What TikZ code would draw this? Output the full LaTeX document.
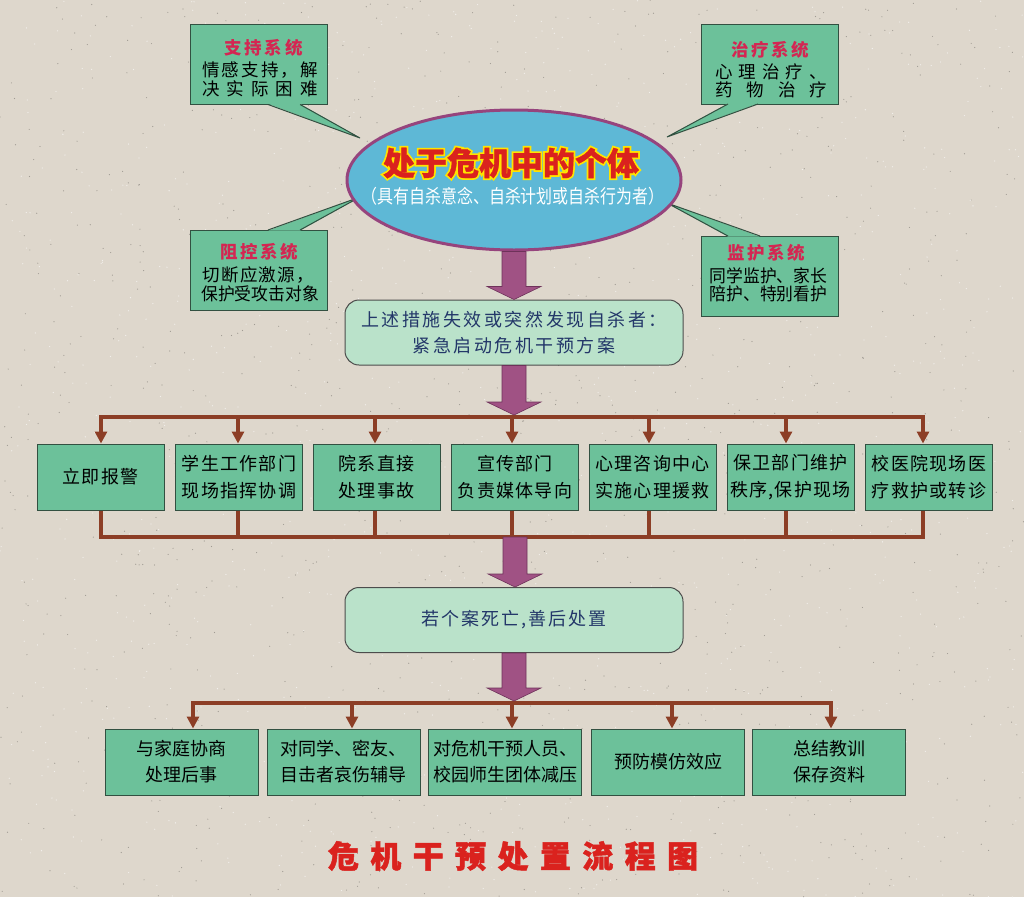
\documentclass[tikz,border=0pt]{standalone}
\usepackage{fontspec}
\usepackage{graphicx}
\setmainfont{Noto Sans CJK SC}
\usetikzlibrary{shapes.geometric,arrows.meta,calc}
\definecolor{bg}{RGB}{222,215,204}
\definecolor{boxg}{RGB}{108,193,154}
\definecolor{boxb}{RGB}{50,80,65}
\definecolor{ellf}{RGB}{94,184,214}
\definecolor{ellb}{RGB}{150,68,125}
\definecolor{purp}{RGB}{160,82,132}
\definecolor{purpd}{RGB}{110,50,90}
\definecolor{busc}{RGB}{140,62,38}
\definecolor{mint}{RGB}{186,226,202}
\definecolor{headred}{RGB}{212,38,82}
\definecolor{navy}{RGB}{35,55,105}
\definecolor{titred}{RGB}{218,34,30}
\definecolor{tityel}{RGB}{255,228,0}
\newcommand\FS[2]{\fontsize{#1}{#2}\selectfont}
\newcommand\blockarrow[2]{%
  \path let \p1=(#1), \p2=(#2) in [fill=purp,draw=purpd,line width=0.6pt]
    (\x1-12pt,\y1) -- (\x1+12pt,\y1) -- (\x1+12pt,\y2+13pt) -- (\x1+27pt,\y2+13pt)
    -- (\x1,\y2) -- (\x1-27pt,\y2+13pt) -- (\x1-12pt,\y2+13pt) -- cycle;}
\tikzset{
  gbox/.style={draw=boxb,line width=1pt,fill=boxg,inner sep=0pt,align=center},
  callout/.style={gbox,minimum width=137pt,minimum height=80pt},
  rowbox/.style={gbox,minimum width=127pt,minimum height=66pt,
     font=\FS{18}{27}\addfontfeature{LetterSpace=7}},
  lowbox/.style={gbox,minimum width=153pt,minimum height=66pt,font=\FS{18}{26}},
  rbox/.style={draw=black!70,line width=1pt,fill=mint,rounded corners=14pt,
     minimum width=338pt,minimum height=65pt,align=center,text=navy,
     font=\FS{18}{26}\addfontfeature{LetterSpace=14}},
  bus/.style={draw=busc,line width=4pt},
  busarrow/.style={bus,-{Triangle[length=12pt,width=12pt]}},
  head/.style={text=headred,font=\FS{17.5}{17.5}\bfseries,inner sep=0pt},
  body/.style={text=black,font=\FS{17.5}{17.5},inner sep=0pt},
  ptr/.style={fill=boxg},
  ptrl/.style={draw=boxb,line width=1pt},
}
\begin{document}
\begin{tikzpicture}[x=1pt,y=-1pt]
\useasboundingbox (0,0) rectangle (1024,897);
\fill[bg] (0,0) rectangle (1024,897);
\pgfmathsetseed{7}
\foreach \i in {1,...,1100}{\fill[black!28!bg] (rnd*1024,rnd*897) circle (0.6pt);}
\foreach \i in {1,...,1100}{\fill[white!60!bg] (rnd*1024,rnd*897) circle (0.65pt);}

% callout boxes
\node[callout] (sup) at (258.5,64.5) {};
\node[callout] (ctl) at (258.5,270) {};
\node[callout] (thr) at (769.5,64) {};
\node[callout] (mon) at (769.5,276) {};
% pointers
\fill[ptr] (268,103.8) -- (360,138) -- (300,103.8) -- cycle;
\draw[ptrl] (268,104.5) -- (360,138) -- (300,104.5);
\fill[ptr] (268,230.7) -- (360,197) -- (300,230.7) -- cycle;
\draw[ptrl] (268,230) -- (360,197) -- (300,230);
\fill[ptr] (728,103.5) -- (667,137) -- (758,103.5) -- cycle;
\draw[ptrl] (728,104) -- (667,137) -- (758,104);
\fill[ptr] (728,236.7) -- (667,203) -- (760,236.7) -- cycle;
\draw[ptrl] (728,236) -- (667,203) -- (760,236);
% callout texts
\node[head] (supH) at (263.5,48) {\makebox[78pt][s]{支\hfill 持\hfill 系\hfill 统}};
\node[body] (supA) at (260,70) {\makebox[116pt][s]{情\hfill 感\hfill 支\hfill 持\hfill ，\hfill 解}};
\node[body] (supB) at (260,89) {\makebox[116pt][s]{决\hfill 实\hfill 际\hfill 困\hfill 难}};
\node[head] (ctlH) at (259,252) {\makebox[78pt][s]{阻\hfill 控\hfill 系\hfill 统}};
\node[body,anchor=west] (ctlA) at (202,275) {\makebox[112pt][s]{切\hfill 断\hfill 应\hfill 激\hfill 源\hfill ，}};
\node[body,anchor=west] (ctlB) at (201,294) {\scalebox{0.96}[1]{保护受攻击对象}};
\node[head] (thrH) at (770,50) {\makebox[78pt][s]{治\hfill 疗\hfill 系\hfill 统}};
\node[body] (thrA) at (771,72) {\makebox[112pt][s]{心\hfill 理\hfill 治\hfill 疗\hfill 、}};
\node[body] (thrB) at (771,90) {\makebox[112pt][s]{药\hfill 物\hfill 治\hfill 疗}};
\node[head] (monH) at (766,253) {\makebox[78pt][s]{监\hfill 护\hfill 系\hfill 统}};
\node[body] (monA) at (768.5,276) {\scalebox{0.96}[1]{同学监护、家长}};
\node[body] (monB) at (768.5,294) {\scalebox{0.96}[1]{陪护、特别看护}};

% ellipse
\node[ellipse,draw=ellb,line width=3pt,fill=ellf,minimum width=334pt,minimum height=140pt] (ell) at (514,180) {};
\node[text=tityel,inner sep=0pt,font=\FS{32}{32}\bfseries\addfontfeature{FakeBold=12}] (ttlglow) at (511,163) {处于危机中的个体};
\node[text=titred,inner sep=0pt,font=\FS{32}{32}\bfseries\addfontfeature{FakeBold=1}] (ttl) at (511,163) {处于危机中的个体};
\node[text=white,inner sep=0pt,font=\FS{19}{19}] (sub) at (513,196) {\scalebox{0.84}[1]{（具有自杀意念、自杀计划或自杀行为者）}};

% first rounded box
\node[rbox] (rb1) at (514,332.5) {上述措施失效或突然发现自杀者：\\紧急启动危机干预方案};
\blockarrow{ell.south}{rb1.north}

% row 1 boxes
\node[rowbox] (b1) at (100.5,477) {立即报警};
\node[rowbox] (b2) at (239,477) {学生工作部门\\现场指挥协调};
\node[rowbox] (b3) at (376.5,477) {院系直接\\处理事故};
\node[rowbox] (b4) at (515,477) {宣传部门\\负责媒体导向};
\node[rowbox] (b5) at (652.5,477) {心理咨询中心\\实施心理援救};
\node[rowbox] (b6) at (790.5,477) {保卫部门维护\\秩序,保护现场};
\node[rowbox] (b7) at (929,477) {校医院现场医\\疗救护或转诊};

\coordinate (t1) at (101,417);
\coordinate (t2) at (238,417);
\coordinate (t3) at (375,417);
\coordinate (t4) at (512,417);
\coordinate (t5) at (649,417);
\coordinate (t6) at (786,417);
\coordinate (t7) at (923,417);
\coordinate (u1) at (101,537);
\coordinate (u7) at (923,537);
\coordinate (tarr) at (515,415);
\coordinate (uarr) at (515,537);

\draw[bus,line cap=rect] (t1) -- (t7);
\foreach \k in {1,...,7}{\draw[busarrow] (t\k) -- (t\k |- b\k.north);}
\draw[bus,line cap=rect] (u1) -- (u7);
\foreach \k in {1,...,7}{\draw[bus] (t\k |- b\k.south) -- (t\k |- u1);}
\blockarrow{rb1.south}{tarr}

% second rounded box
\node[rbox,font=\FS{18}{26}\addfontfeature{LetterSpace=11}] (rb2) at (514,620) {若个案死亡,善后处置};
\blockarrow{uarr}{rb2.north}

% row 2 boxes
\node[lowbox] (c1) at (181.5,762) {与家庭协商\\处理后事};
\node[lowbox] (c2) at (343.5,762) {对同学、密友、\\目击者哀伤辅导};
\node[lowbox] (c3) at (505,762) {对危机干预人员、\\校园师生团体减压};
\node[lowbox] (c4) at (668,762) {预防模仿效应};
\node[lowbox] (c5) at (829,762) {总结教训\\保存资料};
\coordinate (s1) at (193,703);
\coordinate (s2) at (352,703);
\coordinate (s3) at (512,703);
\coordinate (s4) at (672,703);
\coordinate (s5) at (831,703);
\coordinate (sarr) at (515,701);
\draw[bus,line cap=rect] (s1) -- (s5);
\foreach \k in {1,...,5}{\draw[busarrow] (s\k) -- (s\k |- c\k.north);}
\blockarrow{rb2.south}{sarr}

% bottom title
\node[text=titred,inner sep=0pt,font=\FS{31}{31}\bfseries\addfontfeature{FakeBold=1.5}] (title) at (513,856)
 {危\hspace{11.4pt}机\hspace{11.4pt}干\hspace{11.4pt}预\hspace{11.4pt}处\hspace{11.4pt}置\hspace{11.4pt}流\hspace{11.4pt}程\hspace{11.4pt}图};
\end{tikzpicture}
\end{document}
